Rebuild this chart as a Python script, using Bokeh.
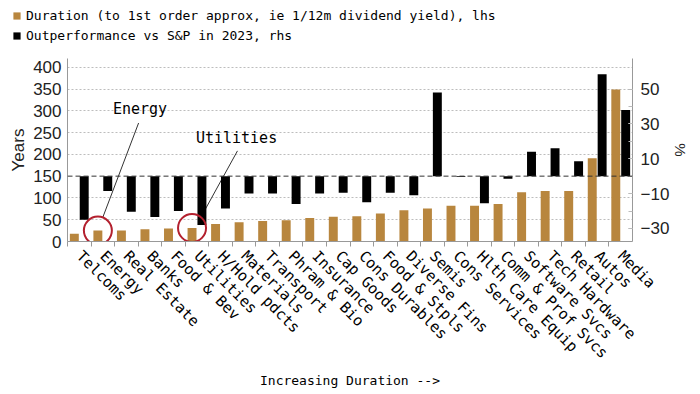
import math
from bokeh.plotting import figure
from bokeh.layouts import column
from bokeh.models import (Range1d, LinearAxis, FixedTicker, Legend, LegendItem, Span,
                          ColumnDataSource, Label)
from bokeh.embed import file_html
from bokeh.resources import INLINE

categories = ["Telcoms", "Energy", "Real Estate", "Banks", "Food & Bev", "Utilities",
              "H/Hold pdcts", "Materials", "Transport", "Phram & Bio", "Insurance",
              "Cap Goods", "Cons Durables", "Food & Stpls", "Diverse Fins", "Semis",
              "Cons Services", "Hlth Care Equip", "Comm & Prof Svcs", "Software Svcs",
              "Tech Hardware", "Retail", "Autos", "Media"]
duration = [18, 25, 25, 28, 30, 31, 40, 44, 47, 49, 54, 57, 58, 64, 72, 76, 82, 82,
            86, 113, 116, 116, 191, 349]
outperformance = [-25, -8.5, -20.5, -23.5, -20, -28, -18.5, -10, -10, -16, -10, -9.5,
                  -15, -9.5, -11, 48, -0.5, -15.5, -1.5, 14, 16, 8.5, 58.5, 38]
left_ticks = [0, 50, 100, 150, 200, 250, 300, 350, 400]
right_ticks = [-30, -10, 10, 30, 50]
right_minor = [-20, 0, 20, 40]
highlight = ["Energy", "Utilities"]
series_names = ["Duration (to 1st order approx, ie 1/12m dividend yield), lhs",
                "Outperformance vs S&P in 2023, rhs"]

BROWN = "#b8863e"
RED = "#b3202e"
MONO = "DejaVu Sans Mono"
SANS = "Liberation Sans"

n = len(categories)
xs = list(range(n))
off = 0.21
w = 0.38

# ---------- legend strip (keys only; swatch renderers sit outside the visible range) ----------
lg = figure(width=700, height=46, output_backend="svg", toolbar_location=None,
            x_range=Range1d(0, 1), y_range=Range1d(0, 1),
            x_axis_location=None, y_axis_location=None,
            min_border_left=0, min_border_right=0, min_border_top=0, min_border_bottom=0)
lg.outline_line_color = None
lg.xgrid.visible = False
lg.ygrid.visible = False
key_src = ColumnDataSource(dict(x=[-10], top=[0]))
d1 = lg.vbar(x="x", top="top", width=0.1, source=key_src, fill_color=BROWN, line_color=None)
d2 = lg.vbar(x="x", top="top", width=0.1, source=key_src, fill_color="black", line_color=None)
legend = Legend(items=[LegendItem(label=series_names[0], renderers=[d1]),
                       LegendItem(label=series_names[1], renderers=[d2])],
                location=(12, 1), orientation="vertical")
legend.background_fill_alpha = 0
legend.border_line_color = None
legend.padding = 0
legend.margin = 0
legend.spacing = 0
legend.label_height = 20
legend.glyph_height = 9
legend.glyph_width = 9
legend.label_standoff = 5
legend.label_text_font = MONO
legend.label_text_font_size = "13px"
legend.label_text_color = "black"
lg.add_layout(legend, "center")

# ---------- main chart ----------
p = figure(width=700, height=348, output_backend="svg", toolbar_location=None,
           x_range=Range1d(-0.5, n - 0.5), y_range=Range1d(0, 420),
           min_border_left=67, min_border_right=68, min_border_top=12,
           min_border_bottom=153)
p.outline_line_color = None
p.extra_y_ranges = {"r": Range1d((0 - 150) / 4, (420 - 150) / 4)}

for fig in (lg, p):
    if "frame_align" in fig.properties():
        fig.frame_align = False

p.xgrid.visible = False
p.ygrid.ticker = FixedTicker(ticks=[t for t in left_ticks if t not in (0, 150)])
p.ygrid.grid_line_color = "#bdbdbd"
p.ygrid.grid_line_dash = "2 2"

p.add_layout(Span(location=0, dimension="width", y_range_name="r",
                  line_color="#333333", line_dash="5 3", line_width=1))

idx = {c: i for i, c in enumerate(categories)}
ie, iu = idx["Energy"], idx["Utilities"]
p.segment(x0=[ie + 1.52, iu + 1.72], y0=[272, 208], x1=[ie - 0.01, iu + 0.15], y1=[54, 54],
          line_color="#333333", line_width=1)

src = ColumnDataSource(dict(x=xs, dur=duration, out=outperformance,
                            xb=[x - off for x in xs], xk=[x + off for x in xs]))
p.vbar(x="xb", top="dur", bottom=0, width=w, source=src, fill_color=BROWN, line_color=None)
p.vbar(x="xk", top="out", bottom=0, width=w, source=src, fill_color="black",
       line_color=None, y_range_name="r")

hx = [idx[c] - off for c in highlight]
hy = [duration[idx[c]] for c in highlight]
p.scatter(x=hx, y=hy, marker="circle", size=28, fill_color=None, line_color=RED,
          line_width=2)

for name, dx, yy in [("Energy", 1.58, 304), ("Utilities", 1.68, 238)]:
    p.add_layout(Label(x=idx[name] + dx, y=yy, text=name, text_align="center",
                       text_baseline="middle", text_font=MONO, text_font_size="15px",
                       text_color="black"))

xa = p.xaxis[0]
xa.ticker = FixedTicker(ticks=xs, minor_ticks=[x + 0.5 for x in xs[:-1]] + [-0.5])
xa.major_label_overrides = {i: c for i, c in enumerate(categories)}
xa.major_label_orientation = -math.pi / 4
xa.major_label_text_font = MONO
xa.major_label_text_font_size = "15px"
xa.major_label_text_color = "black"
xa.major_label_standoff = 6
xa.major_tick_line_color = None
xa.minor_tick_line_color = "#999999"
xa.minor_tick_out = 5
xa.minor_tick_in = 0
xa.axis_line_color = "#999999"
xa.axis_label = "Increasing Duration -->"
xa.axis_label_text_font = MONO
xa.axis_label_text_font_size = "13px"
xa.axis_label_text_font_style = "normal"
xa.axis_label_text_color = "black"
xa.axis_label_standoff = 2

ya = p.yaxis[0]
ya.ticker = FixedTicker(ticks=left_ticks)
ya.major_label_text_font = SANS
ya.major_label_text_font_size = "17px"
ya.major_label_text_color = "#222222"
ya.major_tick_out = 0
ya.major_tick_in = 0
ya.minor_tick_line_color = None
ya.axis_line_color = "#999999"
ya.major_label_standoff = 6
ya.axis_label = "Years"
ya.axis_label_text_font = SANS
ya.axis_label_text_font_size = "17px"
ya.axis_label_text_font_style = "normal"
ya.axis_label_text_color = "#222222"
ya.axis_label_standoff = 2

ra = LinearAxis(y_range_name="r",
                ticker=FixedTicker(ticks=right_ticks, minor_ticks=right_minor + right_ticks))
ra.major_label_text_font = SANS
ra.major_label_text_font_size = "17px"
ra.major_label_text_color = "#222222"
ra.major_tick_out = 0
ra.major_tick_in = 4
ra.major_tick_line_color = "#bbbbbb"
ra.minor_tick_in = 4
ra.minor_tick_out = 0
ra.minor_tick_line_color = "#bbbbbb"
ra.axis_line_color = "#999999"
ra.major_label_standoff = 8
ra.axis_label = "%"
ra.axis_label_text_font = SANS
ra.axis_label_text_font_size = "15px"
ra.axis_label_text_font_style = "normal"
ra.axis_label_text_color = "#222222"
ra.axis_label_standoff = 0
p.add_layout(ra, "right")

layout = column(lg, p, spacing=0)
open("out.html", "w").write(file_html(layout, INLINE))
